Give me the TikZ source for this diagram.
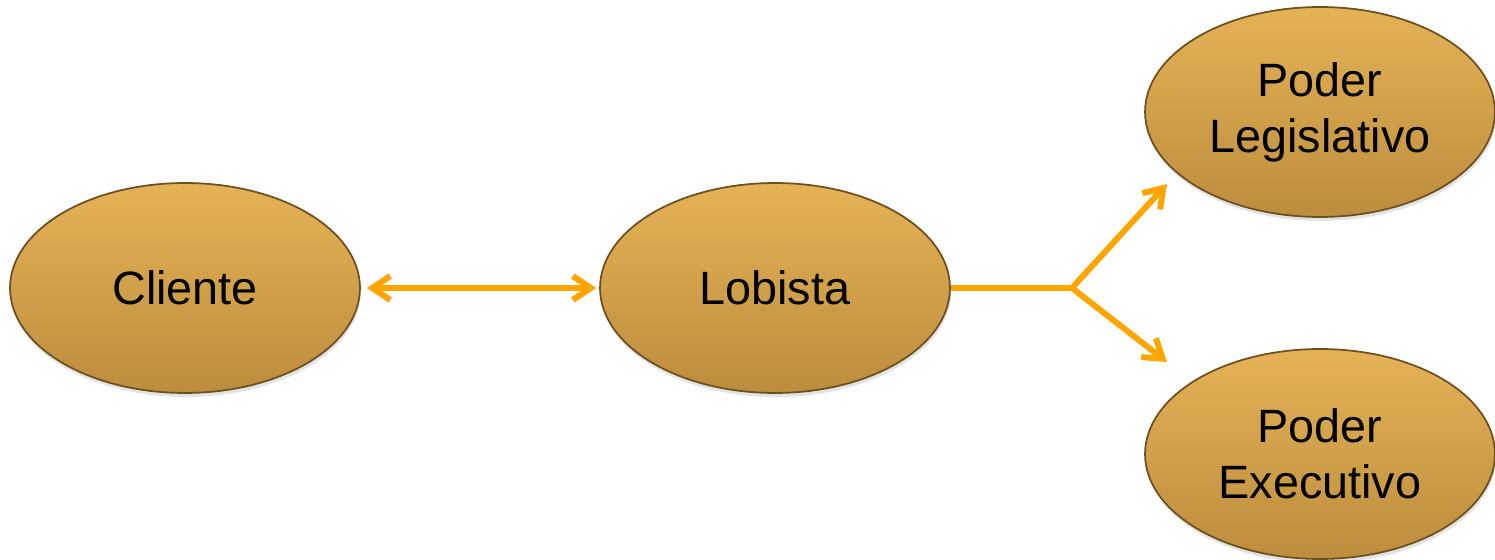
\documentclass[tikz,border=0pt]{standalone}
\usepackage{fontspec}
\setmainfont{Liberation Sans}
\usetikzlibrary{shapes.geometric,arrows.meta,shadows}
\definecolor{ovtop}{RGB}{229,178,86}
\definecolor{ovbot}{RGB}{188,141,62}
\definecolor{ovedge}{RGB}{110,80,32}
\definecolor{arr}{RGB}{255,165,0}
\begin{document}
\begin{tikzpicture}[x=0.02cm,y=-0.02cm,
  oval/.style={ellipse, minimum width=7cm, minimum height=4.2cm, inner sep=0pt,
    draw=ovedge, line width=1pt, top color=ovtop, bottom color=ovbot,
    drop shadow={opacity=0.22,shadow xshift=0.02cm,shadow yshift=-0.08cm},
    font=\fontsize{26.6}{31.8}\selectfont, align=center},
  link/.style={draw=arr, line width=0.12cm, line join=round},
  conn/.style={link, -{Straight Barb[length=0.36cm,width=0.48cm]}}]
\useasboundingbox (0,0) rectangle (1495,560);
\node[oval] (cli) at (185,288) {Cliente};
\node[oval] (lob) at (775,288) {Lobista};
\node[oval] (leg) at (1320,112) {Poder\\Legislativo};
\node[oval] (exe) at (1320,454) {Poder\\Executivo};
\coordinate (j) at (1072,288);
\coordinate (tl) at (1167,184);
\coordinate (te) at (1167,362);
\draw[link, {Straight Barb[length=0.36cm,width=0.48cm]}-{Straight Barb[length=0.36cm,width=0.48cm]}, shorten <=0.12cm, shorten >=0.06cm] (cli) -- (lob);
\draw[link] (lob.east) -- (j);
\draw[conn] (j) -- (tl);
\draw[conn] (j) -- (te);
\end{tikzpicture}
\end{document}
